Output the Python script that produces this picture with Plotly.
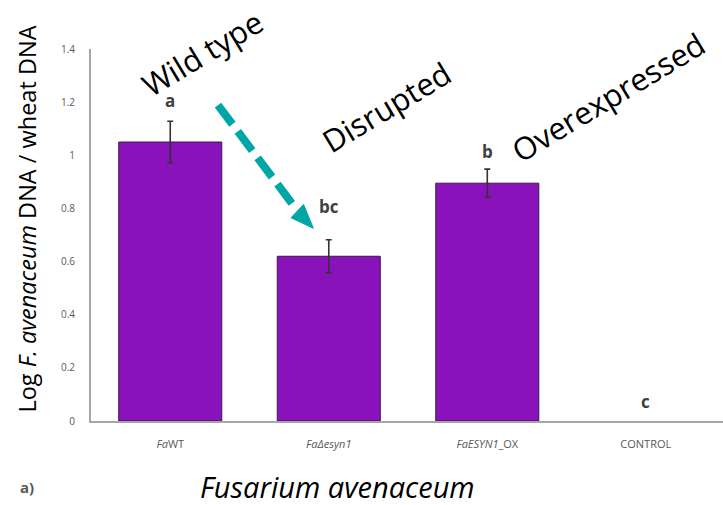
import plotly.graph_objects as go

# Fungal biomass measured in wheat for each strain
strains = ["<i>Fa</i>WT", "<i>FaΔesyn1</i>", "<i>FaESYN1</i>_OX", "CONTROL"]
log_ratio = [1.05, 0.62, 0.895, 0.0]
std_err = [0.078, 0.062, 0.053, None]
groups = ["a", "bc", "b", "c"]
group_shift = [7, 20, 4, 6]
y_ticks = [0, 0.2, 0.4, 0.6, 0.8, 1, 1.2, 1.4]

bar_color = "#8A12BA"
axis_gray = "#A6A6A6"
label_gray = "#595959"
teal = "#00A6A6"

xs = list(range(len(strains)))
fig = go.Figure(
    go.Bar(
        x=xs,
        y=log_ratio,
        width=0.65,
        marker=dict(color=bar_color,
                    line=dict(color="#3a1a4a", width=[1 if v > 0 else 0 for v in log_ratio])),
    )
)

# error bars only where a spread was measured
err_idx = [i for i, e in enumerate(std_err) if e is not None]
fig.add_trace(go.Scatter(
    x=[xs[i] for i in err_idx], y=[log_ratio[i] for i in err_idx],
    mode="markers", marker=dict(size=0.1, color="rgba(0,0,0,0)"), hoverinfo="skip",
    error_y=dict(type="data", array=[std_err[i] for i in err_idx],
                 color="#333333", thickness=1.6, width=3),
))

# significance letters above each bar
for i, (v, e, g, s) in enumerate(zip(log_ratio, std_err, groups, group_shift)):
    fig.add_annotation(
        x=i, y=v + (e or 0), text=f"<b>{g}</b>", showarrow=False, yanchor="bottom", yshift=s,
        font=dict(family="Open Sans", size=17, color="#404040"),
    )

# strain-type captions written diagonally
captions = [("Wild type", 0.176, 0.99), ("Disrupted", 0.467, 0.843), ("Overexpressed", 0.818, 0.871)]
for txt, px, py in captions:
    fig.add_annotation(
        xref="paper", yref="paper", x=px, y=py, text=txt, showarrow=False,
        xanchor="center", yanchor="middle",
        textangle=-31, font=dict(family="Open Sans", size=31, color="black"),
    )

# dashed teal arrow from the wild-type caption to the disrupted bar
fig.add_shape(type="line", x0=0.301, y0=1.189, x1=0.80, y1=0.793,
              line=dict(color=teal, width=8, dash="24px,9px"))
fig.add_shape(type="path", path="M 0.903,0.725 L 0.762,0.765 L 0.841,0.815 Z",
              fillcolor=teal, line=dict(color=teal, width=1))

fig.add_annotation(
    xref="paper", yref="paper", x=-0.101, y=0.542, text="Log <i>F. avenaceum</i> DNA / wheat DNA",
    xanchor="center", yanchor="middle",
    textangle=-90, showarrow=False, font=dict(family="Open Sans", size=23.5, color="black"),
)
fig.add_annotation(
    xref="paper", yref="paper", x=0.39, y=-0.175, text="<i>Fusarium avenaceum</i>",
    xanchor="center", yanchor="middle",
    showarrow=False, font=dict(family="Open Sans", size=29, color="black"),
)
fig.add_annotation(
    xref="paper", yref="paper", x=-0.101, y=-0.178, text="<b>a)</b>",
    xanchor="center", yanchor="middle",
    showarrow=False, font=dict(family="Open Sans", size=15, color=label_gray),
)

fig.update_layout(
    width=723, height=505,
    margin=dict(l=91, r=0, t=49, b=84),
    plot_bgcolor="white", paper_bgcolor="white",
    showlegend=False,
    xaxis=dict(
        range=[-0.5, 3.487], tickvals=xs, ticktext=strains,
        showline=True, linecolor=axis_gray, linewidth=2, showgrid=False, zeroline=False,
        ticks="", ticklabelstandoff=12,
        tickfont=dict(family="Open Sans", size=11, color=label_gray),
    ),
    yaxis=dict(
        range=[0, 1.4], tickvals=y_ticks, ticktext=[f"{t:g}" for t in y_ticks],
        showline=True, linecolor=axis_gray, linewidth=2, showgrid=False, zeroline=False,
        ticks="", ticklabelstandoff=12,
        tickfont=dict(family="Open Sans", size=10, color=label_gray),
    ),
)

fig.write_html("out.html")
